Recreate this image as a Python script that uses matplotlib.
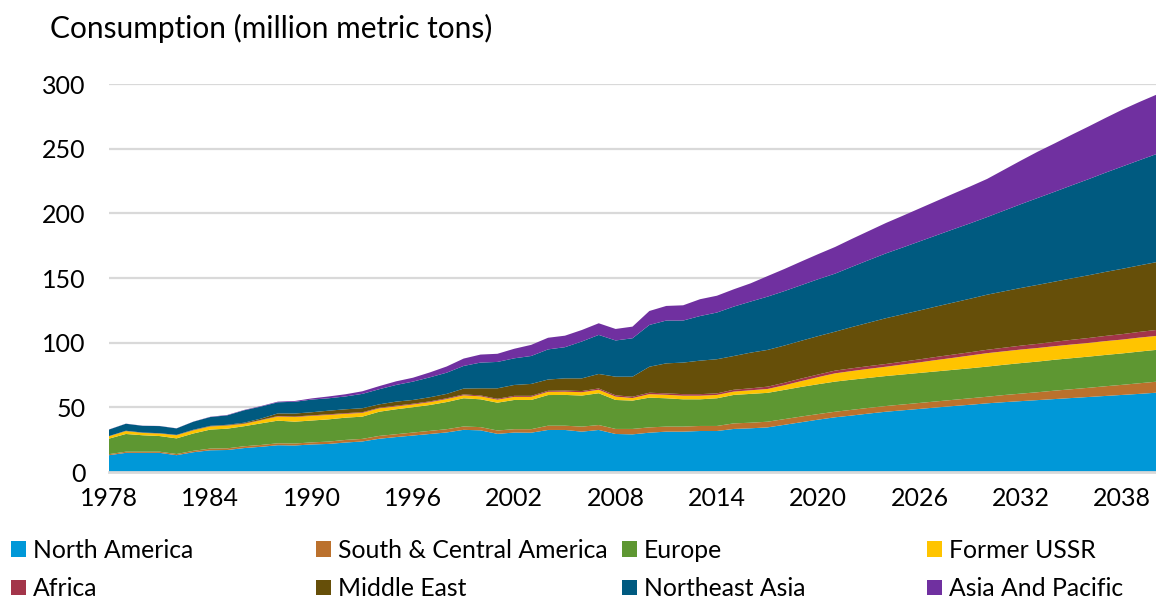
import matplotlib
matplotlib.use("Agg")
import matplotlib.pyplot as plt
from matplotlib.patches import Patch

years = list(range(1978, 2041))

north_america = [13, 14.8, 14.8, 14.8, 13, 15.3, 16.8, 17, 18.5, 19.5, 20.7, 20.5, 21.3,
                 21.7, 22.8, 23.6, 25.7, 27.0, 28.2, 29.4, 30.6, 32.6, 32.2, 29.5, 30.5, 30.4, 32.5, 32.5,
                 31.2, 32.5, 29.4, 29.1, 30.4, 31.2, 31.2, 31.7, 31.7, 33.3, 33.8, 34.5,
                 36.5, 38.5, 40.5, 42.3, 43.7, 45.2, 46.6, 47.7, 48.8, 49.9, 51, 52, 53.1, 54, 54.8,
                 55.6, 56.4, 57.2, 58, 58.8, 59.6, 60.4, 61.3]
south_central_america = [0.8, 0.9, 0.9, 0.9, 0.9, 1.1, 1.3, 1.3, 1.4, 1.4, 1.5, 1.5, 1.6,
                         1.8, 2.0, 2.0, 2.2, 2.2, 2.3, 2.4, 2.5, 2.6, 2.5, 2.6, 2.6, 2.7, 3.3, 3.3,
                         3.9, 3.8, 3.9, 4.2, 4.1, 3.9, 3.9, 3.9, 3.9, 4.3, 4.3, 4.4,
                         4.4, 4.4, 4.3, 4.3, 4.4, 4.4, 4.4, 4.5, 4.6, 4.7, 4.8, 5.0, 5.1, 5.5, 5.8,
                         6.1, 6.5, 6.8, 7.1, 7.5, 7.8, 8.2, 8.5]
europe = [12, 13.7, 12.7, 12.1, 12.1, 13.4, 14.7, 15.2, 15.5, 16.7, 17.5, 16.9, 16.9,
          17.2, 17.2, 17.2, 18.7, 19.3, 19.6, 20.0, 21.0, 21.8, 21.5, 21.5, 22.6, 22.6, 23.7, 23.8,
          24.0, 24.6, 22.4, 21.9, 23.0, 21.9, 21.1, 20.6, 21.4, 22.0, 22.3, 22.3,
          22.6, 22.9, 23.1, 23.3, 23.3, 23.2, 23.2, 23.2, 23.2, 23.2, 23.2, 23.2, 23.3, 23.4, 23.6,
          23.7, 23.9, 24.0, 24.1, 24.2, 24.3, 24.5, 24.6]
former_ussr = [1.8, 2.2, 1.8, 1.9, 2.4, 2.4, 2.4, 2.4, 1.8, 2.4, 3.2, 3.6, 3.6,
               3.4, 3.0, 2.9, 2.6, 2.2, 2.1, 2.2, 2.3, 2.3, 2.3, 2.3, 2.4, 2.4, 2.5, 2.5,
               2.6, 2.7, 2.6, 2.0, 2.7, 2.7, 2.8, 2.8, 2.6, 2.6, 2.8, 3.0,
               3.6, 4.5, 5.5, 6.4, 6.7, 7.0, 7.2, 7.7, 8.2, 8.8, 9.3, 9.9, 10.4, 10.4, 10.5,
               10.5, 10.5, 10.6, 10.6, 10.7, 10.7, 10.8, 10.8]
africa = [0.1, 0.1, 0.1, 0.1, 0.1, 0.2, 0.2, 0.2, 0.3, 0.3, 0.4, 0.4, 0.4,
          0.5, 0.5, 0.5, 0.5, 0.6, 0.6, 0.6, 0.6, 0.7, 0.7, 0.7, 0.8, 0.8, 0.8, 0.9,
          0.9, 1.0, 1.0, 1.0, 1.1, 1.1, 1.2, 1.2, 1.2, 1.4, 1.5, 1.8,
          1.9, 2.0, 2.0, 2.1, 2.1, 2.1, 2.1, 2.2, 2.3, 2.4, 2.5, 2.5, 2.6, 2.8, 3.0,
          3.2, 3.4, 3.6, 3.8, 4.0, 4.2, 4.4, 4.6]
middle_east = [0.1, 0.2, 0.2, 0.2, 0.2, 0.3, 0.3, 0.4, 0.6, 1.0, 2.0, 2.3, 2.4,
               2.8, 3.0, 3.1, 2.6, 3.1, 2.9, 3.2, 3.4, 4.5, 5.5, 8.1, 8.4, 9.2, 8.7, 9.4,
               9.8, 11.2, 14.4, 15.5, 20.1, 23.2, 24.4, 25.9, 26.4, 26.1, 27.6, 28.4,
               28.8, 29.2, 29.7, 30.1, 31.9, 33.6, 35.4, 36.6, 37.8, 39.0, 40.2, 41.4, 42.6, 43.6, 44.6,
               45.6, 46.5, 47.5, 48.5, 49.5, 50.5, 51.4, 52.4]
northeast_asia = [5.0, 5.4, 5.2, 5.5, 5.0, 6.2, 6.8, 7.3, 9.6, 9.3, 8.6, 9.1, 9.8,
                  9.6, 9.9, 11.1, 11.7, 12.9, 14.2, 15.4, 16.4, 17.5, 19.9, 20.4, 20.6, 21.6, 23.3, 24.1,
                  28.5, 30.2, 28.0, 29.7, 32.3, 33.1, 32.5, 34.5, 36.1, 38.2, 39.5, 41.2,
                  42.1, 43.0, 44.0, 44.9, 46.6, 48.4, 50.1, 51.7, 53.4, 55.0, 56.7, 58.3, 60.0, 62.4, 64.8,
                  67.2, 69.5, 71.9, 74.3, 76.7, 79.1, 81.3, 83.5]
asia_pacific = [0.1, 0.1, 0.1, 0.1, 0.1, 0.1, 0.2, 0.3, 0.3, 0.4, 0.5, 0.6, 0.9,
                1.4, 1.7, 2.0, 2.4, 2.8, 3.0, 3.8, 4.8, 5.7, 6.2, 6.3, 7.4, 8.6, 9.0, 8.9,
                8.9, 9.0, 8.9, 9.0, 10.8, 11.3, 11.8, 13.0, 13.0, 13.4, 14.1, 15.9,
                17.1, 18.3, 19.4, 20.6, 21.6, 22.5, 23.5, 24.5, 25.5, 26.5, 27.5, 28.5, 29.5, 31.6, 33.7,
                35.8, 37.4, 39.1, 40.7, 42.3, 43.9, 45.0, 45.9]

labels = ["North America", "South & Central America", "Europe", "Former USSR",
          "Africa", "Middle East", "Northeast Asia", "Asia And Pacific"]
colors = ["#0098D8", "#BB712D", "#5E9732", "#FFC400",
          "#A3354A", "#664F09", "#005A80", "#7030A0"]
series = [north_america, south_central_america, europe, former_ussr,
          africa, middle_east, northeast_asia, asia_pacific]

xticks = list(range(1978, 2041, 6))
yticks = [0, 50, 100, 150, 200, 250, 300]

FONT = "Lato"
W, H = 1156, 603
fig = plt.figure(figsize=(W / 100, H / 100), dpi=100)
left, right, y0, y300 = 109, 1156, 472, 84
ax = fig.add_axes([left / W, (H - y0) / H, (right - left) / W, (y0 - y300) / H])

ax.stackplot(years, *series, colors=colors, labels=labels, linewidth=0)
ax.set_xlim(1978, 2040)
ax.set_ylim(0, 300)
ax.set_xticks(xticks)
ax.set_yticks(yticks)
ax.tick_params(length=0, labelsize=18, colors="#000000")
ax.tick_params(axis="y", pad=17)
ax.tick_params(axis="x", pad=11)
for lab in ax.get_xticklabels() + ax.get_yticklabels():
    lab.set_fontfamily(FONT)
ax.yaxis.grid(True, color="#d9d9d9", linewidth=1.6)
ax.set_axisbelow(True)
for s in ["top", "right", "left"]:
    ax.spines[s].set_visible(False)
ax.spines["bottom"].set_color("#d9d9d9")
ax.spines["bottom"].set_linewidth(2)

fig.text(50 / W, 1 - 28 / H, "Consumption (million metric tons)", fontsize=21.5,
         family=FONT, va="center", ha="left")

# legend: 4 columns, 2 rows (row-wise)
col_x = [11, 316, 622, 927]
for c in range(4):
    hs = [Patch(facecolor=colors[c], edgecolor="none"),
          Patch(facecolor=colors[c + 4], edgecolor="none")]
    fig.legend(hs, [labels[c], labels[c + 4]], loc="upper left",
               bbox_to_anchor=(col_x[c] / W, 1 - 539 / H), frameon=False,
               prop={"family": FONT, "size": 17.8}, handlelength=0.6, handleheight=0.6,
               handletextpad=0.28, labelspacing=0.62, borderpad=0, borderaxespad=0)

fig.savefig("out.png", dpi=100)
